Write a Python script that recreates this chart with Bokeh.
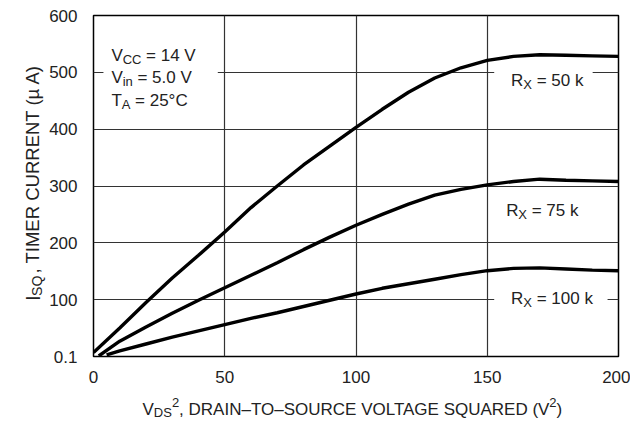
import math
from bokeh.plotting import figure
from bokeh.layouts import row, column
from bokeh.models import Label, FixedTicker, Range1d
from bokeh.embed import file_html
from bokeh.resources import INLINE

# ---- data ----
x_50k = [0, 10, 20, 30, 40, 50, 60, 70, 80, 90, 100, 110, 120, 130, 140, 150, 160, 170, 180, 190, 200]
y_50k = [7, 50, 95, 138, 178, 219, 262, 300, 337, 370, 403, 435, 465, 490, 508, 521, 528, 531, 530, 529, 528]
x_75k = [2, 10, 20, 30, 40, 50, 60, 70, 80, 90, 100, 110, 120, 130, 140, 150, 160, 170, 180, 190, 200]
y_75k = [1, 27, 52, 76, 99, 121, 143, 165, 188, 210, 231, 250, 268, 284, 294, 302, 308, 312, 310, 309, 308]
x_100k = [5, 10, 20, 30, 40, 50, 60, 70, 80, 90, 100, 110, 120, 130, 140, 150, 160, 170, 180, 190, 200]
y_100k = [3, 10, 22, 34, 45, 56, 67, 77, 88, 99, 110, 120, 128, 136, 144, 151, 155, 156, 154, 152, 151]

x_ticks = [0, 50, 100, 150, 200]
y_ticks = [0, 100, 200, 300, 400, 500, 600]
y_tick_labels = ["0.1", "100", "200", "300", "400", "500", "600"]

FONT = "Liberation Sans, Arial"
TXT = "#222222"

TOTAL_W = 630
YT_W = 46           # strip holding the y-axis title
MAIN_H = 385        # main figure height
XT_H = 37           # strip holding the x-axis title
FL, FR, FT, FB = 90, 618, 15, 357  # frame edges in page px

p = figure(width=TOTAL_W - YT_W, height=MAIN_H, output_backend="svg", toolbar_location=None,
           x_range=Range1d(0, 200), y_range=Range1d(0, 600),
           min_border_left=FL - YT_W, min_border_right=TOTAL_W - FR,
           min_border_top=FT, min_border_bottom=MAIN_H - FB)
p.background_fill_color = "white"
p.border_fill_color = "white"
p.outline_line_color = "black"
p.outline_line_width = 1.5

for ax in (p.xaxis[0], p.yaxis[0]):
    ax.axis_line_color = None
    ax.major_tick_line_color = None
    ax.minor_tick_line_color = None
    ax.major_label_text_font = FONT
    ax.major_label_text_font_size = "17px"
    ax.major_label_text_color = TXT
p.xaxis[0].ticker = FixedTicker(ticks=x_ticks)
p.yaxis[0].ticker = FixedTicker(ticks=y_ticks)
p.yaxis[0].major_label_overrides = {t: l for t, l in zip(y_ticks, y_tick_labels)}
p.xaxis[0].major_label_standoff = 8
p.yaxis[0].major_label_standoff = 10

p.xgrid[0].ticker = FixedTicker(ticks=[50, 100, 150])
p.ygrid[0].ticker = FixedTicker(ticks=[100, 200, 300, 400, 500])
for g in (p.xgrid[0], p.ygrid[0]):
    g.grid_line_color = "#333333"
    g.grid_line_width = 1.2

# page px -> data of the main plot
def dx(px):
    return (px - FL) * 200.0 / (FR - FL)

def dy(py):
    return (FB - py) * 600.0 / (FB - FT)

# white boxes that break the grid lines behind the labels
def blank(x0, x1, y0, y1):
    p.quad(left=dx(x0), right=dx(x1), top=dy(y0), bottom=dy(y1),
           fill_color="white", line_color=None)

blank(100, 215, 36, 106)
blank(493, 592, 62, 86)
blank(493, 607, 282, 306)

p.line(x_50k, y_50k, line_color="black", line_width=3.4)
p.line(x_75k, y_75k, line_color="black", line_width=3.4)
p.line(x_100k, y_100k, line_color="black", line_width=3.4)

# strips for the axis titles (their data units are page pixels)
fy = figure(width=YT_W, height=MAIN_H, output_backend="svg", toolbar_location=None,
            x_range=Range1d(0, YT_W), y_range=Range1d(MAIN_H, 0),
            x_axis_type=None, y_axis_type=None, min_border=0)
fx = figure(width=TOTAL_W, height=XT_H, output_backend="svg", toolbar_location=None,
            x_range=Range1d(0, TOTAL_W), y_range=Range1d(MAIN_H + XT_H, MAIN_H),
            x_axis_type=None, y_axis_type=None, min_border=0)
for f in (fy, fx):
    f.outline_line_color = None
    f.grid.visible = False
    f.background_fill_color = "white"
    f.border_fill_color = "white"

# approximate glyph widths (Arial metrics, per em) for composing sub/superscripts
WID = {' ': .278, ',': .278, '.': .278, '(': .333, ')': .333, '=': .584, '°': .4, 'µ': .576,
       '–': .556, 'i': .222, 'n': .556, 'k': .5}
for c in '0123456789':
    WID[c] = .556
WID.update({'A': .667, 'B': .667, 'C': .722, 'D': .722, 'E': .667, 'F': .611, 'G': .778,
            'H': .722, 'I': .278, 'K': .667, 'L': .556, 'M': .833, 'N': .722, 'O': .778,
            'P': .667, 'Q': .778, 'R': .722, 'S': .667, 'T': .611, 'U': .722, 'V': .667,
            'W': .944, 'X': .667, 'Y': .667})

def tw(s, size):
    w = sum(WID.get(c, .556) for c in s) * size
    return w * 0.992 if len(s) > 8 else w   # kerning in long runs

def compose(fig, pieces, x0, base, rotate=False, page=False):
    """pieces: (text, size, baseline shift in px, positive = down/right)"""
    pos = x0
    sign = -1 if rotate else 1
    for text, size, shift in pieces:
        lead = len(text) - len(text.lstrip(' '))
        pos += sign * tw(' ' * lead, size)
        text = text.lstrip(' ')
        kw = dict(text=text, text_font=FONT, text_font_size=f"{size}px", text_color=TXT,
                  text_baseline="alphabetic", text_align="left")
        if rotate:
            px, py = base + shift, pos
            kw["angle"] = math.pi / 2
        else:
            px, py = pos, base + shift
        if page:
            lab = Label(x=px, y=py, **kw)
        else:
            lab = Label(x=dx(px), y=dy(py), **kw)
        fig.add_layout(lab)
        pos += sign * tw(text, size)

BIG, SMALL = 17, 13
compose(p, [("V", BIG, 0), ("CC", SMALL, 4), (" = 14 V", BIG, 0)], 108, 55)
compose(p, [("V", BIG, 0), ("in", SMALL, 4), (" = 5.0 V", BIG, 0)], 108, 77)
compose(p, [("T", BIG, 0), ("A", SMALL, 4), (" = 25°C", BIG, 0)], 108, 100)

compose(p, [("R", BIG, 0), ("X", SMALL, 4), (" = 50 k", BIG, 0)], 510, 80)
compose(p, [("R", BIG, 0), ("X", SMALL, 4), (" = 75 k", BIG, 0)], 505, 211)
compose(p, [("R", BIG, 0), ("X", SMALL, 4), (" = 100 k", BIG, 0)], 510, 299)

compose(fx, [("V", BIG, 0), ("DS", SMALL, 3), ("2", SMALL, -7),
             (", DRAIN–TO–SOURCE VOLTAGE SQUARED (V", BIG, 0), ("2", SMALL, -7), (")", BIG, 0)],
        142, 409, page=True)

compose(fy, [("I", 19.5, 0), ("SQ", 14, 4), (" , TIMER CURRENT (µ A)", 18.5, 0)],
        322, 32, rotate=True, page=True)

layout = column(row(fy, p), fx)
open("out.html", "w").write(file_html(layout, INLINE))
